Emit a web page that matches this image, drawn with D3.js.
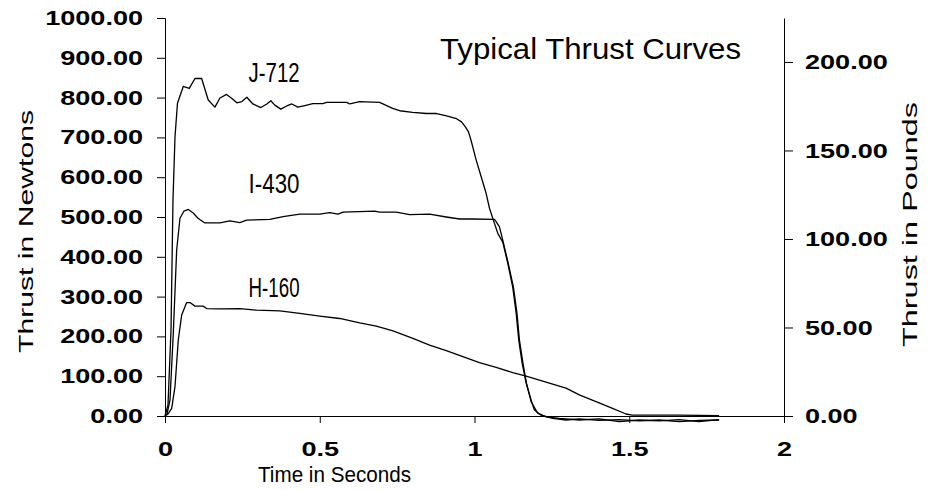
<!DOCTYPE html>
<html>
<head>
<meta charset="utf-8">
<script src="https://cdn.jsdelivr.net/npm/d3@7"></script>
<style>
  body { margin: 0; background: #fff; }
  svg { display: block; }
  text { font-family: "Liberation Sans", Arial, sans-serif; fill: #000; }
</style>
</head>
<body>
<div id="chart"></div>
<script>
// motor names and where their labels go (time, newtons)
const motors = ['J-712', 'I-430', 'H-160']
const labelAt = [[0.27, 840], [0.27, 560], [0.27, 300]]

// thrust curves: time in s, thrust in N
const j712Time = [0, 0.0097, 0.0194, 0.0258, 0.0323, 0.0403, 0.059, 0.0784, 0.0968, 0.1184, 0.1397, 0.1613,
    0.1774, 0.199, 0.2161, 0.2323, 0.2484, 0.2645, 0.2839, 0.3097, 0.329, 0.3419, 0.3548, 0.3742, 0.3935,
    0.4097, 0.429, 0.4516, 0.4774, 0.5097, 0.5226, 0.5871, 0.5968, 0.629, 0.6935, 0.7355, 0.7581, 0.8,
    0.8452, 0.8774, 0.9097, 0.9419, 0.9581, 0.971, 0.9806, 0.9894, 1.0055, 1.0216, 1.0377, 1.0484, 1.0645,
    1.0752, 1.0913, 1.1074, 1.1235, 1.1345, 1.1429, 1.1539, 1.1668, 1.1829, 1.1935, 1.2152, 1.2526, 1.2958,
    1.3387, 1.4032, 1.4677, 1.5323, 1.5968, 1.6613, 1.7258, 1.7903]
const j712Thrust = [0, 28, 216, 543, 701, 786, 828, 823, 848, 848, 794, 776,
    799, 808, 798, 787, 790, 801, 784, 775, 784, 792, 781, 771, 779,
    784, 776, 780, 785, 785, 788, 788, 784, 790, 788, 773, 767, 763,
    760, 760, 754, 747, 739, 726, 714, 691, 643, 601, 559, 522, 484,
    459, 437, 384, 324, 259, 191, 133, 83, 40, 15, 2, -6, -10,
    -7, -11, -9, -12, -10, -14, -11, -10]

const i430Time = [0, 0.0065, 0.0161, 0.0268, 0.0377, 0.0484, 0.0613, 0.0752, 0.0913, 0.1065, 0.129, 0.1774,
    0.2097, 0.2419, 0.2635, 0.3387, 0.3816, 0.4355, 0.5, 0.5323, 0.559, 0.5752, 0.6774, 0.6935, 0.7474,
    0.7903, 0.8548, 0.9087, 0.9516, 0.9945, 1.0645, 1.071, 1.0806, 1.0913, 1.1074, 1.1258, 1.1371, 1.1452,
    1.1565, 1.1677, 1.1829, 1.2042, 1.2313, 1.2742, 1.3387, 1.4032, 1.4677, 1.5323, 1.5968, 1.6613, 1.7258, 1.7903]
const i430Thrust = [0, 5, 40, 208, 417, 497, 515, 519, 510, 497, 485, 485,
    490, 486, 492, 494, 501, 507, 507, 511, 507, 512, 515, 512, 512,
    506, 507, 500, 495, 495, 494, 487, 475, 442, 389, 324, 259, 191,
    133, 83, 36, 7, -2, -6, -10, -7, -14, -10, -12, -9, -14, -9]

const h160Time = [0, 0.0097, 0.0216, 0.0323, 0.0429, 0.0539, 0.07, 0.0806, 0.0968, 0.1235, 0.1345, 0.1774,
    0.2419, 0.2958, 0.371, 0.4355, 0.5, 0.5645, 0.629, 0.6829, 0.7365, 0.801, 0.8548, 0.9087, 0.9623,
    1.0161, 1.07, 1.1235, 1.1668, 1.2097, 1.2526, 1.2958, 1.3387, 1.3926, 1.4461, 1.4894, 1.5106, 1.6613, 1.7903]
const h160Thrust = [0, 5, 19, 74, 191, 254, 285, 285, 276, 276, 270, 269,
    270, 266, 264, 258, 251, 245, 234, 226, 214, 195, 178, 164, 149,
    134, 122, 109, 100, 90, 80, 70, 53, 36, 19, 5, 2, 2, 1]

const newtonTicks = [0, 100, 200, 300, 400, 500, 600, 700, 800, 900, 1000]
const poundTicks = [0, 50, 100, 150, 200]
const timeTicks = [0, 0.5, 1, 1.5, 2]
const NEWTONS_PER_POUND = 4.448

const [WIDTH, HEIGHT] = [930, 490]
const MARGIN = { left: 165, right: 146, top: 18, bottom: 74 }
const WIDEN = 1.32 // the bold tick labels are drawn wider than plain Arial

const svg = d3.select('#chart').append('svg')
    .attr('width', WIDTH)
    .attr('height', HEIGHT)

const x = d3.scaleLinear([0, 2], [MARGIN.left, WIDTH - MARGIN.right])
const y = d3.scaleLinear([0, 1000], [HEIGHT - MARGIN.bottom, MARGIN.top])
const yLb = d3.scaleLinear([0, 1000 / NEWTONS_PER_POUND], [HEIGHT - MARGIN.bottom, MARGIN.top])

function widen(sel, k) {
    sel.each(function () {
        const w = this.getComputedTextLength()
        d3.select(this).attr('textLength', w * k).attr('lengthAdjust', 'spacingAndGlyphs')
    })
}

function styleAxis(g) {
    g.selectAll('.domain, .tick line').attr('stroke', '#000').attr('stroke-width', 1)
    g.selectAll('text')
        .attr('font-family', '"Liberation Sans", Arial, sans-serif')
        .attr('font-size', 20.5)
        .attr('font-weight', 'bold')
        .call(widen, WIDEN)
}

// axes
svg.append('g')
    .attr('transform', `translate(0,${y(0)})`)
    .call(d3.axisBottom(x).tickValues(timeTicks).tickFormat(d3.format('')).tickSize(7).tickPadding(18))
    .call(styleAxis)

svg.append('g')
    .attr('transform', `translate(${x(0)},0)`)
    .call(d3.axisLeft(y).tickValues(newtonTicks).tickFormat(d3.format('.2f')).tickSize(8).tickPadding(14))
    .call(styleAxis)

svg.append('g')
    .attr('transform', `translate(${x(2)},0)`)
    .call(d3.axisRight(yLb).tickValues(poundTicks).tickFormat(d3.format('.2f')).tickSize(9).tickPadding(12).tickSizeOuter(0))
    .call(styleAxis)

// curves
const series = [
    d3.zip(j712Time, j712Thrust),
    d3.zip(i430Time, i430Thrust),
    d3.zip(h160Time, h160Thrust),
]
const line = d3.line().x(d => x(d[0])).y(d => y(d[1]))

svg.append('g')
    .selectAll('path')
    .data(series)
    .join('path')
    .attr('d', line)
    .attr('fill', 'none')
    .attr('stroke', '#000')
    .attr('stroke-width', 1.3)
    .attr('stroke-linejoin', 'round')

// motor labels (narrow type)
svg.append('g')
    .selectAll('text')
    .data(motors)
    .join('text')
    .attr('x', (d, i) => x(labelAt[i][0]))
    .attr('y', (d, i) => y(labelAt[i][1]))
    .attr('font-size', 27)
    .attr('textLength', 51)
    .attr('lengthAdjust', 'spacingAndGlyphs')
    .text(d => d)

// titles
svg.append('text')
    .attr('x', 440).attr('y', 59)
    .attr('font-size', 29)
    .attr('textLength', 301)
    .attr('lengthAdjust', 'spacingAndGlyphs')
    .text('Typical Thrust Curves')

svg.append('text')
    .attr('x', 258).attr('y', 482)
    .attr('font-size', 22)
    .attr('textLength', 153)
    .attr('lengthAdjust', 'spacingAndGlyphs')
    .text('Time in Seconds')

svg.append('text')
    .attr('transform', 'translate(33,353) rotate(-90)')
    .attr('font-size', 21)
    .attr('textLength', 243)
    .attr('lengthAdjust', 'spacingAndGlyphs')
    .text('Thrust in Newtons')

svg.append('text')
    .attr('transform', 'translate(917,347) rotate(-90)')
    .attr('font-size', 21)
    .attr('textLength', 245)
    .attr('lengthAdjust', 'spacingAndGlyphs')
    .text('Thrust in Pounds')
</script>
</body>
</html>
